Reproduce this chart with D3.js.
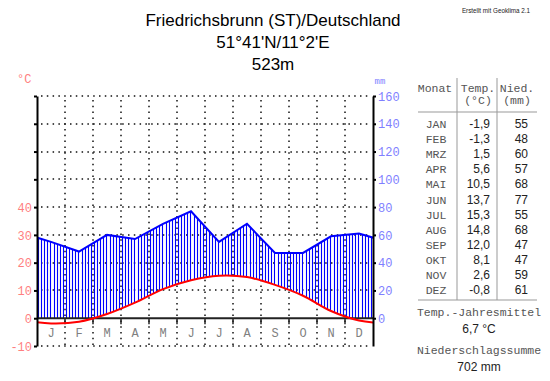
<!DOCTYPE html>
<html>
<head>
<meta charset="utf-8">
<script src="https://cdn.jsdelivr.net/npm/d3@7"></script>
<style>
  body { margin: 0; background: #fff; }
  .mono { font-family: "Liberation Mono", "Courier New", monospace; }
  .sans { font-family: "Liberation Sans", Arial, sans-serif; }
</style>
</head>
<body>
<svg id="chart" width="550" height="381"></svg>
<script>
// station data
var station = 'Friedrichsbrunn (ST)/Deutschland';
var coords = "51°41'N/11°2'E";
var elevation = '523m';

var monthLetters = ['J', 'F', 'M', 'A', 'M', 'J', 'J', 'A', 'S', 'O', 'N', 'D'];
var monthNames = ['JAN', 'FEB', 'MRZ', 'APR', 'MAI', 'JUN', 'JUL', 'AUG', 'SEP', 'OKT', 'NOV', 'DEZ'];
var temps = [-1.9, -1.3, 1.5, 5.6, 10.5, 13.7, 15.3, 14.8, 12.0, 8.1, 2.6, -0.8];
var precip = [55, 48, 60, 57, 68, 77, 55, 68, 47, 47, 59, 61];
var tempTicks = [-10, 0, 10, 20, 30, 40, 50, 60, 70, 80];
var precipTicks = [0, 20, 40, 60, 80, 100, 120, 140, 160];

var svg = d3.select('#chart');

var plotL = 37, plotR = 373, plotT = 96, plotB = 346;

var x = d3.scaleLinear().domain([0, 12]).range([plotL, plotR]);
var yT = d3.scaleLinear().domain([-10, 80]).range([plotB, plotT]);
var yP = d3.scaleLinear().domain([-20, 160]).range([plotB, plotT]);

// title
var titleG = svg.append('g').attr('class', 'sans').attr('font-size', 17).attr('text-anchor', 'middle');
[station, coords, elevation].forEach(function(t, i) {
    titleG.append('text').attr('x', 273).attr('y', 26 + i * 22).text(t);
});
svg.append('text').attr('class', 'sans').attr('x', 496).attr('y', 13)
    .attr('font-size', 6.3).attr('text-anchor', 'middle').attr('fill', '#222')
    .text('Erstellt mit Geoklima 2.1');

// dotted grid
var grid = svg.append('g').attr('stroke', '#111').attr('stroke-width', 1.5).attr('stroke-dasharray', '1.5 4.3');
tempTicks.forEach(function(t) {
    if (t == 0) return;
    var gy = Math.round(yT(t));
    grid.append('line').attr('x1', plotL + 4).attr('x2', plotR - 2).attr('y1', gy).attr('y2', gy);
});
d3.range(1, 12).forEach(function(m) {
    var gx = Math.round(x(m));
    grid.append('line').attr('x1', gx).attr('x2', gx).attr('y1', plotT + 4).attr('y2', plotB);
});

// wrap data round the year so the lines run to both edges
var idx = d3.range(-1, 13);
function wrap(arr, i) { return arr[(i + 12) % 12]; }

svg.append('defs').call(function(defs) {
    defs.append('clipPath').attr('id', 'plot')
        .append('rect').attr('x', plotL).attr('y', plotT).attr('width', plotR - plotL).attr('height', plotB - plotT);
    defs.append('clipPath').attr('id', 'belowPrecip')
        .append('path').attr('d', d3.area()
            .x(function(i) { return x(i + 0.5); })
            .y0(yT(0))
            .y1(function(i) { return yP(wrap(precip, i)); })(idx));
    defs.append('clipPath').attr('id', 'aboveTemp')
        .append('path').attr('d', d3.area().curve(d3.curveCatmullRom)
            .x(function(i) { return x(i + 0.5); })
            .y0(plotT)
            .y1(function(i) { return yT(wrap(temps, i)); })(idx));
});

// humid hatching
var hatch = svg.append('g').attr('clip-path', 'url(#plot)')
    .append('g').attr('clip-path', 'url(#belowPrecip)')
    .append('g').attr('clip-path', 'url(#aboveTemp)');
d3.range(plotL + 1, plotR, 28 / 9).forEach(function(hx) {
    var px = Math.round(hx) + 0.5;
    hatch.append('line').attr('x1', px).attr('x2', px).attr('y1', plotT).attr('y2', yT(0))
        .attr('stroke', '#0000ff').attr('stroke-width', 1.1);
});

// zero line and month ticks
svg.append('line').attr('x1', plotL).attr('x2', plotR).attr('y1', yT(0)).attr('y2', yT(0))
    .attr('stroke', '#222').attr('stroke-width', 2);
d3.range(1, 12).forEach(function(m) {
    svg.append('line').attr('x1', x(m)).attr('x2', x(m)).attr('y1', yT(0)).attr('y2', yT(0) + 6)
        .attr('stroke', '#222').attr('stroke-width', 1.5);
});

var lines = svg.append('g').attr('clip-path', 'url(#plot)');
lines.append('path')
    .attr('d', d3.line().curve(d3.curveCatmullRom)
        .x(function(i) { return x(i + 0.5); })
        .y(function(i) { return yT(wrap(temps, i)); })(idx))
    .attr('fill', 'none').attr('stroke', '#ff0000').attr('stroke-width', 2);
lines.append('path')
    .attr('d', d3.line()
        .x(function(i) { return x(i + 0.5); })
        .y(function(i) { return yP(wrap(precip, i)); })(idx))
    .attr('fill', 'none').attr('stroke', '#0000ff').attr('stroke-width', 2);

// month labels
svg.append('g').attr('class', 'mono').attr('font-size', 12).attr('fill', '#808080').attr('text-anchor', 'middle')
    .selectAll('text').data(monthLetters).enter().append('text')
    .attr('x', function(d, i) { return x(i + 0.5); }).attr('y', 337)
    .text(function(d) { return d; });

// axes
var axL = svg.append('g').attr('transform', 'translate(' + plotL + ',0)')
    .call(d3.axisLeft(yT).tickValues(tempTicks).tickSize(3).tickSizeOuter(0)
        .tickFormat(function(d) { return d <= 40 ? d : ''; }));
axL.selectAll('path, line').attr('stroke', '#000').attr('stroke-width', 2);
axL.selectAll('text').attr('class', 'mono').attr('font-size', 12).attr('fill', '#ff7f7f').attr('x', -5).attr('dy', '0.35em');

var axR = svg.append('g').attr('transform', 'translate(' + plotR + ',0)')
    .call(d3.axisRight(yP).tickValues(precipTicks).tickSize(3).tickSizeOuter(0));
axR.selectAll('path, line').attr('stroke', '#000').attr('stroke-width', 2);
axR.selectAll('text').attr('class', 'mono').attr('font-size', 12).attr('fill', '#7f7fff').attr('x', 5).attr('dy', '0.35em');

svg.append('text').attr('class', 'mono').attr('x', 17).attr('y', 83).attr('font-size', 12).attr('fill', '#ff7f7f').text('°C');
svg.append('text').attr('class', 'mono').attr('x', 380).attr('y', 84).attr('font-size', 9).attr('fill', '#7f7fff')
    .attr('text-anchor', 'middle').text('mm');

// table
var tbl = svg.append('g');
tbl.append('line').attr('x1', 457).attr('x2', 457).attr('y1', 78).attr('y2', 300).attr('stroke', '#999');
tbl.append('line').attr('x1', 497).attr('x2', 497).attr('y1', 78).attr('y2', 300).attr('stroke', '#999');
tbl.append('line').attr('x1', 418).attr('x2', 537).attr('y1', 112).attr('y2', 112).attr('stroke', '#999');
tbl.append('line').attr('x1', 418).attr('x2', 537).attr('y1', 300).attr('y2', 300).attr('stroke', '#999');

var head = tbl.append('g').attr('class', 'mono').attr('font-size', 11.5).attr('fill', '#555').attr('text-anchor', 'middle');
head.append('text').attr('x', 435).attr('y', 92).text('Monat');
head.append('text').attr('x', 478).attr('y', 92).text('Temp.');
head.append('text').attr('x', 517).attr('y', 92).text('Nied.');
head.append('text').attr('x', 478).attr('y', 104).text('(°C)');
head.append('text').attr('x', 517).attr('y', 104).text('(mm)');

tbl.append('g').attr('class', 'mono').attr('font-size', 11.5).attr('fill', '#555').attr('text-anchor', 'middle')
    .selectAll('text').data(monthNames).enter().append('text')
    .attr('x', 436).attr('y', function(d, i) { return 128 + i * 15.1; })
    .text(function(d) { return d; });
tbl.append('g').attr('class', 'sans').attr('font-size', 12).attr('fill', '#222').attr('text-anchor', 'end')
    .selectAll('text').data(temps).enter().append('text')
    .attr('x', 490).attr('y', function(d, i) { return 128 + i * 15.1; })
    .text(function(d) { return d.toFixed(1).replace('.', ','); });
tbl.append('g').attr('class', 'sans').attr('font-size', 12).attr('fill', '#222').attr('text-anchor', 'end')
    .selectAll('text').data(precip).enter().append('text')
    .attr('x', 528).attr('y', function(d, i) { return 128 + i * 15.1; })
    .text(function(d) { return d; });

var meanT = d3.mean(temps), sumP = d3.sum(precip);
svg.append('text').attr('class', 'mono').attr('x', 479).attr('y', 316).attr('font-size', 11.5)
    .attr('fill', '#555').attr('text-anchor', 'middle').text('Temp.-Jahresmittel');
svg.append('text').attr('class', 'sans').attr('x', 479).attr('y', 333).attr('font-size', 12)
    .attr('fill', '#222').attr('text-anchor', 'middle').text(meanT.toFixed(1).replace('.', ',') + ' °C');
svg.append('text').attr('class', 'mono').attr('x', 479).attr('y', 354).attr('font-size', 11.5)
    .attr('fill', '#555').attr('text-anchor', 'middle').text('Niederschlagssumme');
svg.append('text').attr('class', 'sans').attr('x', 479).attr('y', 371).attr('font-size', 12)
    .attr('fill', '#222').attr('text-anchor', 'middle').text(sumP + ' mm');
</script>
</body>
</html>
